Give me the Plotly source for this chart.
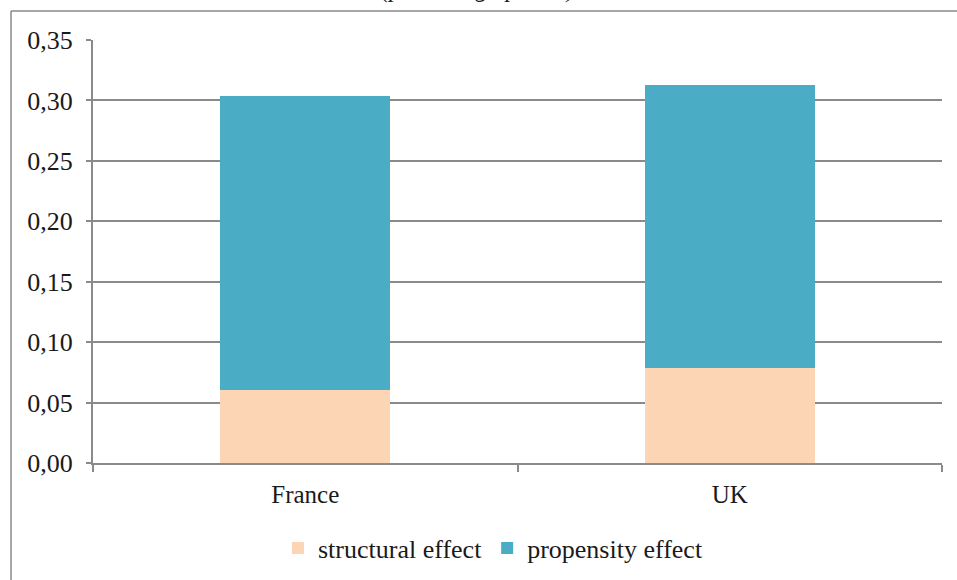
import plotly.graph_objects as go

categories = ["France", "UK"]
structural = [0.060, 0.079]
propensity = [0.244, 0.234]
y_ticks = [0.0, 0.05, 0.10, 0.15, 0.20, 0.25, 0.30, 0.35]

W, H = 957, 580
L, T = 93, 40
R = W - 942
B = H - 463
pw, ph = W - L - R, H - T - B

def px_x(x):  # screen px -> paper x
    return (x - L) / pw

def px_y(y):  # screen px -> paper y
    return (H - B - y) / ph

FONT = "Liberation Serif"
GRID = "#8a8a8a"

fig = go.Figure()
fig.add_trace(go.Bar(x=categories, y=structural, name="structural effect",
                     marker=dict(color="#FCD5B5", line=dict(width=0))))
fig.add_trace(go.Bar(x=categories, y=propensity, name="propensity effect",
                     marker=dict(color="#4BACC6", line=dict(width=0))))

fig.update_layout(
    width=W, height=H,
    barmode="stack", bargap=0.6,
    separators=",.",
    paper_bgcolor="white", plot_bgcolor="white",
    margin=dict(l=L, r=R, t=T, b=B, autoexpand=False),
    font=dict(family=FONT, size=25, color="#1a1a1a"),
    legend=dict(orientation="h", x=px_x(493), xanchor="center",
                y=px_y(548), yanchor="middle", font=dict(family=FONT, size=26),
                traceorder="normal", itemwidth=30),
    showlegend=True,
)
fig.update_xaxes(
    showline=True, linecolor=GRID, linewidth=2,
    ticks="outside", tickson="boundaries", ticklen=7, tickcolor=GRID, tickwidth=2,
    showgrid=False, ticklabelstandoff=8, tickfont=dict(family=FONT, size=25),
)
fig.update_yaxes(
    range=[0, 0.35], tickvals=y_ticks, tickformat=".2f",
    showline=True, linecolor=GRID, linewidth=2,
    ticks="outside", ticklen=5, tickcolor=GRID, tickwidth=2,
    showgrid=True, gridcolor=GRID, gridwidth=2,
    zeroline=False, ticklabelstandoff=8,
    tickfont=dict(family=FONT, size=26),
)

# outer chart border (top and left edges; the rest is cropped in the reference)
fig.add_shape(type="line", xref="paper", yref="paper",
              x0=px_x(11), x1=px_x(1000), y0=px_y(11), y1=px_y(11),
              line=dict(color=GRID, width=1.5), layer="below")
fig.add_shape(type="line", xref="paper", yref="paper",
              x0=px_x(11), x1=px_x(11), y0=px_y(11), y1=px_y(640),
              line=dict(color=GRID, width=1.5), layer="below")

fig.add_annotation(text="<i>(percentage points)</i>", xref="paper", yref="paper",
                   x=px_x(478), y=px_y(5), xanchor="center", yanchor="bottom",
                   showarrow=False, font=dict(size=25, family=FONT, color="#1a1a1a"))

fig.write_html("out.html",
               config={"displayModeBar": False},
               post_script="document.body.style.margin='0';document.body.style.overflow='hidden';")
